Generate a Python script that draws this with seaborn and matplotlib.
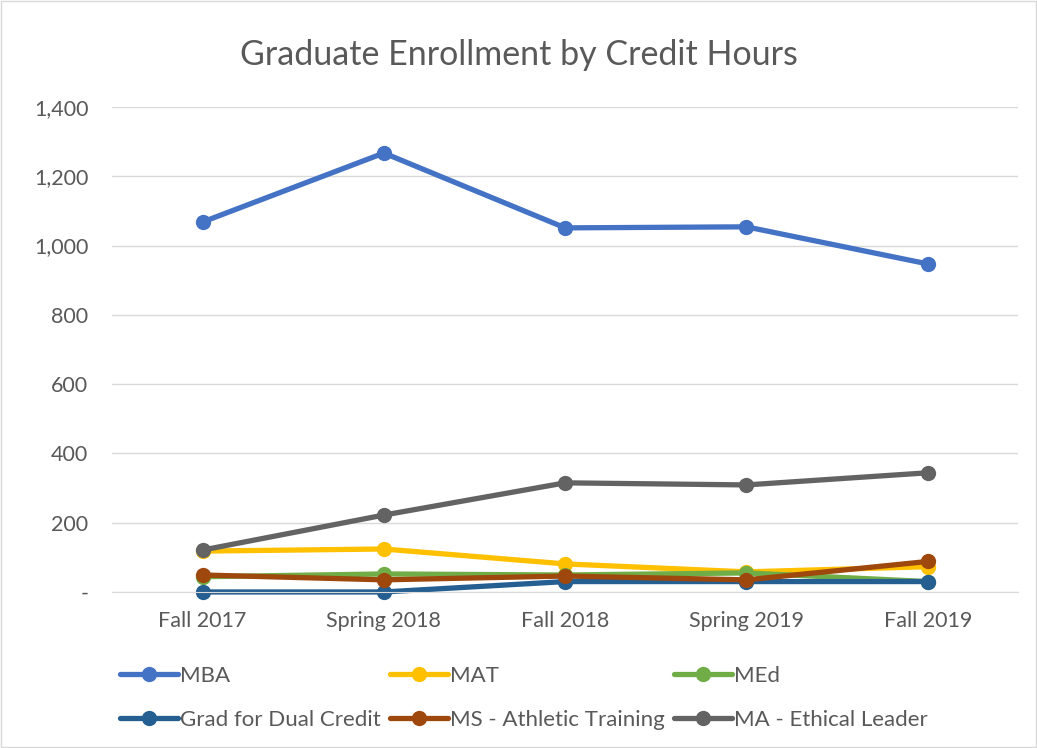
import numpy as np
import pandas as pd
import seaborn as sns
import matplotlib
matplotlib.use('Agg')
import matplotlib.pyplot as plt
from matplotlib.ticker import FuncFormatter
from matplotlib.patches import Rectangle

terms = ['Fall 2017', 'Spring 2018', 'Fall 2018', 'Spring 2019', 'Fall 2019']
programs = ['MBA', 'MAT', 'MEd', 'Grad for Dual Credit', 'MS - Athletic Training', 'MA - Ethical Leader']
mba = [1068, 1267, 1051, 1054, 947]
mat = [118, 124, 81, 58, 73]
med = [44, 52, 49, 55, 30]
dual = [0, 0, 30, 30, 30]
ms_at = [49, 35, 46, 35, 88]
ma_el = [121, 222, 315, 309, 344]
colors = ['#4472C4', '#FFC000', '#70AD47', '#255E91', '#9E480E', '#636363']

series = [mba, mat, med, dual, ms_at, ma_el]
df = pd.DataFrame({
    'Term': terms * len(programs),
    'Enrollment': sum(series, []),
    'Program': [p for p in programs for _ in terms],
})

sns.set_style('white')
plt.rcParams['font.family'] = ['Lato', 'DejaVu Sans']

fig = plt.figure(figsize=(10.37, 7.48), dpi=100)
ax = fig.add_axes([0.108, 0.2086, 0.874, 0.6484])

sns.lineplot(data=df, x='Term', y='Enrollment', hue='Program',
             hue_order=programs, palette=colors, marker='o',
             markersize=11, markeredgewidth=0, linewidth=3.8,
             sort=False, ax=ax, legend=False, clip_on=False)

ax.set_xlim(-0.5, 4.5)
ax.set_ylim(0, 1400)
ax.set_yticks(range(0, 1401, 200))
ax.yaxis.set_major_formatter(FuncFormatter(lambda v, p: '-' if v == 0 else f'{int(v):,}'))
ax.grid(axis='y', color='#D9D9D9', linewidth=1)
ax.set_axisbelow(True)
for s in ['top', 'right', 'left']:
    ax.spines[s].set_visible(False)
ax.spines['bottom'].set_color('#D9D9D9')
ax.tick_params(axis='both', length=0, labelsize=15.5, colors='#595959')
ax.tick_params(axis='x', pad=14)
ax.tick_params(axis='y', pad=17)
ax.set_xlabel('')
ax.set_ylabel('')

fig.text(0.5, 0.926, 'Graduate Enrollment by Credit Hours', ha='center', va='center',
         fontsize=24.5, color='#595959')

# legend in Excel order: row-wise
handles = [plt.Line2D([], [], color=c, marker='o', markersize=11, linewidth=3.8,
                      markeredgewidth=0) for c in colors]
order = [0, 3, 1, 4, 2, 5]
fig.legend([handles[i] for i in order], [programs[i] for i in order],
           ncol=3, loc='center left', bbox_to_anchor=(0.116, 0.067),
           frameon=False, fontsize=16, labelcolor='#595959',
           handlelength=2.6, handletextpad=0.1, columnspacing=0.42,
           labelspacing=1.1, borderaxespad=0, borderpad=0)

fig.add_artist(Rectangle((0.001, 0.001), 0.998, 0.998, transform=fig.transFigure,
                         fill=False, edgecolor='#D9D9D9', linewidth=1))

fig.savefig('out.png', dpi=100)
